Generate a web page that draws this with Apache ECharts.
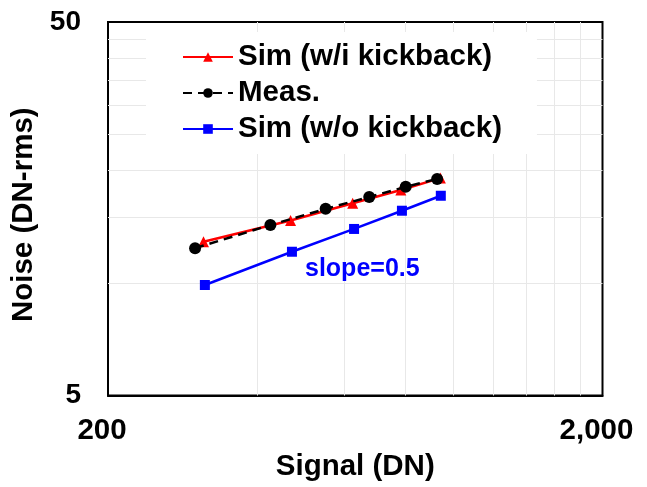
<!DOCTYPE html>
<html>
<head>
<meta charset="utf-8">
<script src="https://cdn.jsdelivr.net/npm/echarts@6/dist/echarts.min.js"></script>
<style>
  html, body { margin: 0; padding: 0; background: #fff; }
  #chartDIV { width: 647px; height: 487px; }
</style>
</head>
<body>
<div id="chartDIV"></div>
<script>
// signal (DN) / noise (DN-rms)
var simKickX = [312, 468, 625, 782, 940];
var simKickY = [12.9, 14.7, 16.35, 17.75, 19.1];
var measX = [300, 426, 551, 675, 800, 926];
var measY = [12.4, 14.3, 15.8, 17.0, 18.1, 19.0];
var simNoKickX = [314, 471, 629, 786, 942];
var simNoKickY = [9.88, 12.13, 13.96, 15.62, 17.13];

// minor grid positions and axis labels
var xGrid = [400, 600, 800, 1000, 1200, 1400, 1600, 1800];
var yGrid = [10, 15, 20, 25, 30, 35, 40, 45];
var xLabels = { 200: '200', 2000: '2,000' };
var yLabels = { 5: '5', 50: '50' };

function pairs(xs, ys) {
    return xs.map(function (x, i) { return [x, ys[i]]; });
}

var font = 'Liberation Sans, Arial, sans-serif';
var big = 29.5;
var myChart = echarts.init(document.getElementById('chartDIV'));

var gridLines = [];
xGrid.forEach(function (v) { gridLines.push({ xAxis: v }); });
yGrid.forEach(function (v) { gridLines.push({ yAxis: v }); });

var option = {
    animation: false,
    backgroundColor: '#fff',
    textStyle: { fontFamily: font },
    grid: {
        left: 108, right: 44.5, top: 22, bottom: 91.5,
        show: true, borderColor: '#000', borderWidth: 2, backgroundColor: 'transparent'
    },
    legend: {
        orient: 'vertical',
        left: 146,
        top: 32,
        z: 50,
        padding: [10, 35, 10, 36],
        backgroundColor: '#fff',
        itemWidth: 50,
        itemHeight: 12,
        itemGap: 6,
        textStyle: { fontSize: big, fontWeight: 'bold', color: '#000', fontFamily: font, lineHeight: 29 },
        data: ['Sim (w/i kickback)', 'Meas.', 'Sim (w/o kickback)']
    },
    xAxis: {
        type: 'log',
        logBase: 10,
        min: 200,
        max: 2000,
        name: 'Signal (DN)',
        nameLocation: 'middle',
        nameGap: 56,
        nameTextStyle: { fontSize: big, fontWeight: 'bold', color: '#000', fontFamily: font },
        axisLine: { show: true, lineStyle: { color: '#000', width: 2 } },
        axisTick: { show: false },
        splitLine: { show: false },
        axisLabel: {
            margin: 20,
            padding: [0, 12, 0, 0],
            fontSize: big, fontWeight: 'bold', color: '#000', fontFamily: font,
            showMinLabel: true, showMaxLabel: true,
            formatter: function (v) { return xLabels[Math.round(v)] || ''; }
        }
    },
    yAxis: {
        type: 'log',
        logBase: 10,
        min: 5,
        max: 50,
        name: 'Noise (DN-rms)',
        nameLocation: 'middle',
        nameGap: 61,
        nameTextStyle: { fontSize: big, fontWeight: 'bold', color: '#000', fontFamily: font, padding: [0, 12, 0, 0] },
        axisLine: { show: true, lineStyle: { color: '#000', width: 2 } },
        axisTick: { show: false },
        splitLine: { show: false },
        axisLabel: {
            margin: 27,
            fontSize: 28, fontWeight: 'bold', color: '#000', fontFamily: font,
            showMinLabel: true, showMaxLabel: true,
            formatter: function (v) { return yLabels[Math.round(v)] || ''; }
        }
    },
    graphic: [{
        type: 'text',
        left: 305,
        top: 257,
        z: 10,
        style: { text: 'slope=0.5', fill: '#0000ff', font: 'bold 25px ' + font }
    }],
    series: [
        {
            name: 'grid',
            type: 'line',
            data: [],
            z: 1,
            silent: true,
            markLine: {
                silent: true,
                z: 1,
                symbol: ['none', 'none'],
                label: { show: false },
                lineStyle: { color: '#e8e8e8', width: 1, type: 'solid' },
                data: gridLines
            }
        },
        {
            name: 'Sim (w/i kickback)',
            type: 'line',
            z: 3,
            data: pairs(simKickX, simKickY),
            color: '#ff0000',
            symbol: 'triangle',
            symbolSize: 11,
            lineStyle: { width: 2.5 }
        },
        {
            name: 'Meas.',
            type: 'line',
            z: 4,
            data: pairs(measX, measY),
            color: '#000000',
            symbol: 'circle',
            symbolSize: 12,
            lineStyle: { width: 2.5, type: [9, 6] }
        },
        {
            name: 'Sim (w/o kickback)',
            type: 'line',
            z: 3,
            data: pairs(simNoKickX, simNoKickY),
            color: '#0000ff',
            symbol: 'rect',
            symbolSize: 10,
            lineStyle: { width: 2.5 }
        }
    ]
};

myChart.setOption(option);
</script>
</body>
</html>
